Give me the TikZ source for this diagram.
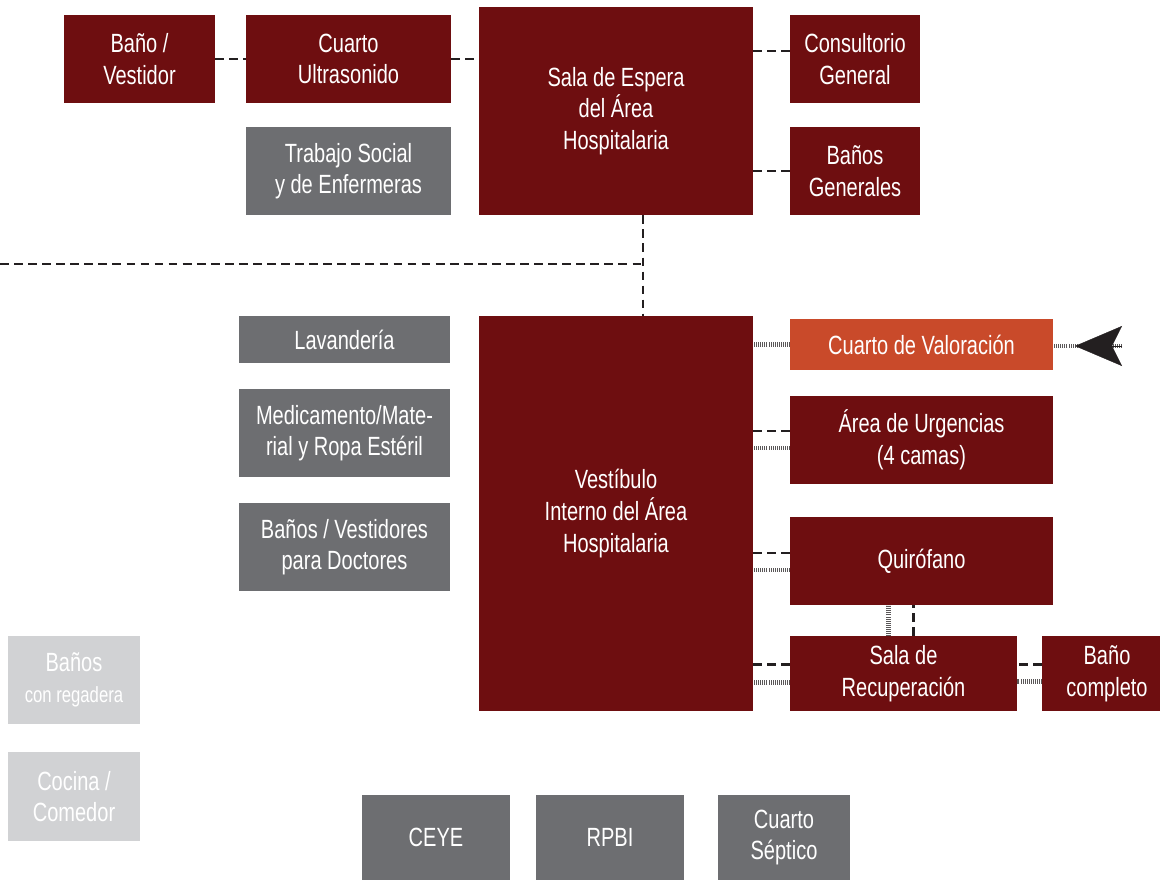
\documentclass[tikz,border=0pt]{standalone}
\usepackage{fontspec}
\setmainfont[FakeStretch=0.76]{Liberation Sans}
\usepackage{xcolor}
\usepackage{tikz}
\usetikzlibrary{arrows.meta,positioning,calc}

\definecolor{vino}{HTML}{6E0E10}
\definecolor{gris}{HTML}{6D6E71}
\definecolor{grisclaro}{HTML}{D1D2D4}
\definecolor{naranja}{HTML}{C94A2A}
\definecolor{tinta}{HTML}{231F20}

\tikzset{
    room/.style={rectangle, inner sep=2pt, align=center, text=white,
        font=\fontsize{15}{18}\selectfont},
    roomred/.style={room, fill=vino},
    roomgray/.style={room, fill=gris},
    roomlight/.style={room, fill=grisclaro},
    roomorange/.style={room, fill=naranja},
    dashlink/.style={draw=tinta, line width=1.2pt, dash pattern=on 5pt off 3pt},
    hatchlink/.style={draw=tinta!75, line width=2.4pt, dash pattern=on 0.55pt off 0.6pt}
}

\begin{document}
\begin{tikzpicture}[x=0.02cm, y=-0.02cm]
    \useasboundingbox (0,0) rectangle (1160,880);

    % Upper block
    \node[roomred, minimum width=3.02cm, minimum height=1.76cm] (bano) at (139.5,59) {Baño /\\Vestidor};
    \node[roomred, minimum width=4.10cm, minimum height=1.76cm] (ultra) at (348.5,59) {Cuarto\\Ultrasonido};
    \node[roomred, minimum width=5.48cm, minimum height=4.16cm] (espera) at (616,111) {Sala de Espera\\del Área\\Hospitalaria};
    \node[roomred, minimum width=2.60cm, minimum height=1.76cm] (consul) at (855,59) {Consultorio\\General};
    \node[roomred, minimum width=2.60cm, minimum height=1.76cm] (banosgen) at (855,171) {Baños\\Generales};
    \node[roomgray, minimum width=4.10cm, minimum height=1.76cm] (social) at (348.5,171) {Trabajo Social\\y de Enfermeras};

    % Hospital block
    \node[roomred, minimum width=5.48cm, minimum height=7.90cm] (vestibulo) at (616,513.5) {Vestíbulo\\Interno del Área\\Hospitalaria};
    \node[roomgray, minimum width=4.22cm, minimum height=0.94cm] (lavan) at (344.5,339.5) {Lavandería};
    \node[roomgray, minimum width=4.22cm, minimum height=1.76cm] (medic) at (344.5,433) {Medicamento/Mate-\\rial y Ropa Estéril};
    \node[roomgray, minimum width=4.22cm, minimum height=1.76cm] (doctores) at (344.5,547) {Baños / Vestidores\\para Doctores};
    \node[roomorange, minimum width=5.26cm, minimum height=1.02cm] (valor) at (921.5,344.5) {Cuarto de Valoración};
    \node[roomred, minimum width=5.26cm, minimum height=1.76cm] (urgen) at (921.5,440) {Área de Urgencias\\(4 camas)};
    \node[roomred, minimum width=5.26cm, minimum height=1.76cm] (quiro) at (921.5,561) {Quirófano};
    \node[roomred, minimum width=4.54cm, minimum height=1.50cm] (recup) at (903.5,673.5) {Sala de\\Recuperación};
    \node[roomred, minimum width=2.60cm, minimum height=1.50cm] (completo) at (1107,673.5) {Baño\\completo};

    % Other areas
    \node[roomlight, minimum width=2.64cm, minimum height=1.76cm] (regadera) at (74,680) {Baños\\{\fontsize{12.5}{15}\selectfont con regadera}};
    \node[roomlight, minimum width=2.64cm, minimum height=1.78cm] (cocina) at (74,796.5) {Cocina /\\Comedor};
    \node[roomgray, minimum width=2.96cm, minimum height=1.70cm] (ceye) at (436,837.5) {CEYE};
    \node[roomgray, minimum width=2.96cm, minimum height=1.70cm] (rpbi) at (610,837.5) {RPBI};
    \node[roomgray, minimum width=2.64cm, minimum height=1.70cm] (septico) at (784,837.5) {Cuarto\\Séptico};

    % Link ends
    \coordinate (consulA) at ($(consul.west)+(0,-8)$);
    \coordinate (urgenA) at ($(urgen.west)+(0,-9)$);
    \coordinate (urgenB) at ($(urgen.west)+(0,8)$);
    \coordinate (quiroA) at ($(quiro.west)+(0,-8)$);
    \coordinate (quiroB) at ($(quiro.west)+(0,9)$);
    \coordinate (recupA) at ($(recup.west)+(0,-9)$);
    \coordinate (recupB) at ($(recup.west)+(0,9)$);
    \coordinate (recupC) at ($(recup.north)+(-15,0)$);
    \coordinate (recupD) at ($(recup.north)+(10,0)$);
    \coordinate (completoA) at ($(completo.west)+(0,-9)$);
    \coordinate (completoB) at ($(completo.west)+(0,8)$);
    \coordinate (esperaS) at ($(espera.south)+(27,0)$);
    \coordinate (vestN) at ($(vestibulo.north)+(27,0)$);
    \coordinate (izq) at (0,264);
    \coordinate (entrada) at (1122,346);

    % Links upper block
    \draw[dashlink] (bano) -- (ultra);
    \draw[dashlink] (ultra) -- (ultra -| espera.west);
    \draw[dashlink] (consulA) -- (consulA -| espera.east);
    \draw[dashlink] (banosgen) -- (banosgen -| espera.east);

    % Link to the hospital block
    \draw[dashlink] (esperaS) -- (vestN);
    \draw[dashlink] (izq) -- (izq -| esperaS);

    % Links hospital block
    \draw[hatchlink] (valor) -- (valor -| vestibulo.east);
    \draw[dashlink] (urgenA) -- (urgenA -| vestibulo.east);
    \draw[hatchlink] (urgenB) -- (urgenB -| vestibulo.east);
    \draw[dashlink] (quiroA) -- (quiroA -| vestibulo.east);
    \draw[hatchlink] (quiroB) -- (quiroB -| vestibulo.east);
    \draw[dashlink] (recupA) -- (recupA -| vestibulo.east);
    \draw[hatchlink] (recupB) -- (recupB -| vestibulo.east);
    \draw[hatchlink] (recupC) -- (recupC |- quiro.south);
    \draw[dashlink] (recupD) -- (recupD |- quiro.south);
    \draw[dashlink] (completoA) -- (completoA -| recup.east);
    \draw[hatchlink] (completoB) -- (completoB -| recup.east);

    % Entrance
    \draw[hatchlink] (entrada) -- (entrada -| valor.east);
    \draw[tinta, line width=0.2pt, -{Stealth[length=0.94cm, width=0.8cm, inset=0.2cm]}] (entrada) -- ($(entrada)+(-47,0)$);
\end{tikzpicture}
\end{document}
